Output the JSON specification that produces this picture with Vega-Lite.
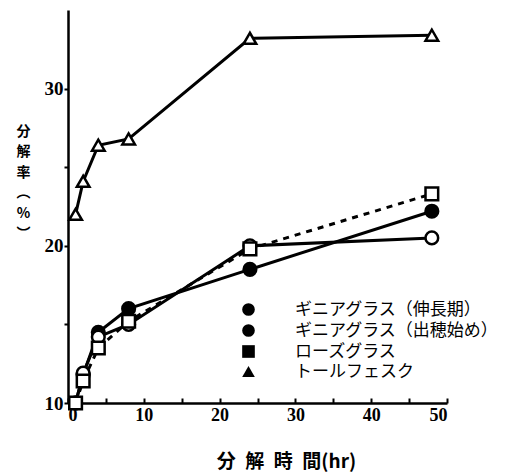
{
  "$schema": "https://vega.github.io/schema/vega-lite/v6.json",
  "width": 379,
  "height": 393,
  "autosize": {"type": "none"},
  "padding": {"left": 68, "top": 10, "right": 67, "bottom": 69},
  "background": "white",
  "config": {
    "view": {"stroke": null},
    "axis": {
      "grid": false,
      "domainColor": "black",
      "domainWidth": 2.5,
      "tickColor": "black",
      "tickWidth": 2,
      "labelColor": "black",
      "labelFont": "Liberation Serif",
      "labelFontWeight": "bold",
      "labelFontSize": 18,
      "titleColor": "black",
      "titleFont": "Noto Sans CJK JP",
      "titleFontWeight": "bold"
    }
  },
  "data": {
    "values": [
      {"series": "ギニアグラス（伸長期）", "hour": 1, "value": 10.0},
      {"series": "ギニアグラス（伸長期）", "hour": 2, "value": 11.8},
      {"series": "ギニアグラス（伸長期）", "hour": 4, "value": 14.5},
      {"series": "ギニアグラス（伸長期）", "hour": 8, "value": 16.0},
      {"series": "ギニアグラス（伸長期）", "hour": 24, "value": 18.5},
      {"series": "ギニアグラス（伸長期）", "hour": 48, "value": 22.2},
      {"series": "ギニアグラス（出穂始め）", "hour": 1, "value": 10.0},
      {"series": "ギニアグラス（出穂始め）", "hour": 2, "value": 11.9},
      {"series": "ギニアグラス（出穂始め）", "hour": 4, "value": 14.2},
      {"series": "ギニアグラス（出穂始め）", "hour": 8, "value": 15.0},
      {"series": "ギニアグラス（出穂始め）", "hour": 24, "value": 20.0},
      {"series": "ギニアグラス（出穂始め）", "hour": 48, "value": 20.5},
      {"series": "ローズグラス", "hour": 1, "value": 10.0},
      {"series": "ローズグラス", "hour": 2, "value": 11.4},
      {"series": "ローズグラス", "hour": 4, "value": 13.5},
      {"series": "ローズグラス", "hour": 8, "value": 15.2},
      {"series": "ローズグラス", "hour": 24, "value": 19.8},
      {"series": "ローズグラス", "hour": 48, "value": 23.3},
      {"series": "トールフェスク", "hour": 1, "value": 22.0},
      {"series": "トールフェスク", "hour": 2, "value": 24.1},
      {"series": "トールフェスク", "hour": 4, "value": 26.4},
      {"series": "トールフェスク", "hour": 8, "value": 26.8},
      {"series": "トールフェスク", "hour": 24, "value": 33.2},
      {"series": "トールフェスク", "hour": 48, "value": 33.4}
    ]
  },
  "encoding": {
    "x": {
      "field": "hour",
      "type": "quantitative",
      "scale": {"domain": [0, 50], "nice": false},
      "axis": {
        "values": [0, 5, 10, 15, 20, 25, 30, 35, 40, 45, 50],
        "labelExpr": "datum.value % 10 === 0 ? datum.label : ''",
        "tickSize": -5,
        "labelPadding": 8,
        "title": "分\u2002解\u2002時\u2002間(hr)",
        "titleFontSize": 19,
        "titleX": 218,
        "titleY": 64,
        "titleBaseline": "alphabetic",
        "titleAlign": "center"
      }
    },
    "y": {
      "field": "value",
      "type": "quantitative",
      "scale": {"domain": [10, 35], "nice": false, "zero": false},
      "axis": {
        "values": [10, 15, 20, 25, 30],
        "labelExpr": "datum.value % 10 === 0 ? datum.label : ''",
        "tickSize": 4,
        "labelPadding": 1,
        "labelFontSize": 19,
        "title": ["分", "解", "率", "︵", "%", "︶"],
        "titleAngle": 0,
        "titleX": -45,
        "titleY": 114,
        "titleBaseline": "top",
        "titleAlign": "center",
        "titleFontSize": 14,
        "titleLineHeight": 20.5
      }
    }
  },
  "layer": [
    {
      "transform": [{"filter": "datum.series !== 'ローズグラス'"}],
      "mark": {"type": "line", "color": "black", "strokeWidth": 3},
      "encoding": {"detail": {"field": "series"}}
    },
    {
      "transform": [{"filter": "datum.series === 'ローズグラス'"}],
      "mark": {"type": "line", "color": "black", "strokeWidth": 3, "strokeDash": [6, 6]},
      "encoding": {}
    },
    {
      "mark": {"type": "point", "filled": true, "stroke": "black", "strokeWidth": 2.5, "opacity": 1, "size": 160},
      "encoding": {
        "fill": {
          "condition": {"test": "datum.series !== 'ギニアグラス（伸長期）'", "value": "white"},
          "value": "black"
        },
        "shape": {
          "field": "series",
          "scale": {
            "domain": ["ギニアグラス（伸長期）", "ギニアグラス（出穂始め）", "ローズグラス", "トールフェスク"],
            "range": ["circle", "circle", "square", "triangle-up"]
          },
          "legend": {
            "orient": "none",
            "legendX": 172,
            "legendY": 291,
            "title": null,
            "padding": 0,
            "symbolSize": 160,
            "symbolOpacity": 1,
            "symbolFillColor": "white",
            "symbolStrokeColor": "black",
            "symbolStrokeWidth": 2.5,
            "labelFont": "Noto Sans CJK JP",
            "labelFontSize": 17,
            "labelColor": "black",
            "labelOffset": 38,
            "labelLimit": 300,
            "rowPadding": -2
          }
        }
      }
    }
  ]
}
